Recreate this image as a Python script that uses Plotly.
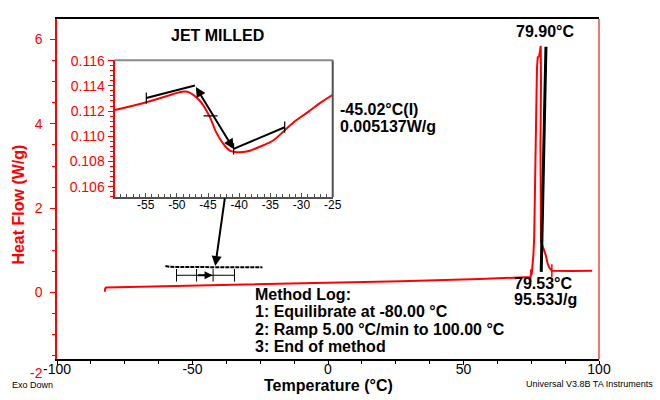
import plotly.graph_objects as go

# ---------------- data ----------------
# main DSC trace (Temperature °C, Heat Flow W/g)
main_T = [-82.4, -82.2, -81.8, -65.5, -40.0, 0.0, 26.8, 56.0, 74.6, 75.2, 75.8, 76.1, 76.5,
          76.8, 77.1, 77.4, 77.9, 78.5, 78.6, 78.4, 78.4, 78.6, 79.5, 80.3, 81.0, 81.6, 82.6,
          90.0, 97.5]
main_HF = [0.02, 0.10, 0.12, 0.14, 0.18, 0.23, 0.27, 0.32, 0.37, 0.45, 0.90, 1.34, 2.88,
           4.42, 5.30, 5.58, 5.60, 5.85, 5.00, 3.50, 2.00, 1.20, 1.05, 0.90, 0.70, 0.60, 0.52,
           0.51, 0.52]
# integration limits of the melting peak
limit_T = [74.8, 82.6]
limit_HF = [0.40, 0.52]
# onset tangent line
onset_T = [78.68, 80.42]
onset_HF = [0.49, 5.83]

# miniature of the zoomed region drawn on the main plot
mini_T = [-60.0, -58.5, -55.0, -45.0, -35.0, -24.2]
mini_HF = [0.63, 0.61, 0.605, 0.60, 0.60, 0.60]
mini_tan_T = [-55.9, -48.5, -42.4, -34.5]
mini_tan_HF = [0.41, 0.41, 0.41, 0.41]
callout_from = (-38.0, 2.27)
callout_to = (-41.6, 0.63)

# inset (glass transition zoom)
inset_T = [-59.95, -54.9, -51.7, -48.5, -46.4, -44.8, -43.7, -42.6, -41.5, -40.4, -38.8,
           -36.7, -34.5, -32.9, -31.3, -29.1, -27.0, -24.4]
inset_HF = [0.11208, 0.11270, 0.11317, 0.11355, 0.11286, 0.11162, 0.11033, 0.10944, 0.10887,
            0.10874, 0.10879, 0.10917, 0.10969, 0.11039, 0.11110, 0.11188, 0.11265, 0.11348]
tan1_T = [-54.9, -47.1]
tan1_HF = [0.11303, 0.11403]
tan2_T = [-47.1, -40.9]
tan2_HF = [0.11403, 0.10900]
tan3_T = [-40.9, -32.7]
tan3_HF = [0.10900, 0.11072]
tg_T = [-44.6]
tg_HF = [0.11162]

main_xticks = [-100, -50, 0, 50, 100]
main_yticks = [0, 2, 4, 6]
inset_xticks = [-55, -50, -45, -40, -35, -30, -25]
inset_yticks = [0.106, 0.108, 0.110, 0.112, 0.114, 0.116]

method_log = ["Method Log:", "1: Equilibrate at -80.00 °C",
              "2: Ramp 5.00 °C/min to 100.00 °C", "3: End of method"]

RED = "#ff0000"
FONT = "Arial, Liberation Sans, sans-serif"

fig = go.Figure()

# main trace
fig.add_trace(go.Scatter(x=main_T, y=main_HF, mode="lines",
                         line=dict(color=RED, width=2), showlegend=False))
fig.add_trace(go.Scatter(x=limit_T, y=limit_HF, mode="markers",
                         marker=dict(symbol="line-ns", size=9, line=dict(color=RED, width=1.5)),
                         showlegend=False))
fig.add_trace(go.Scatter(x=onset_T, y=onset_HF, mode="lines",
                         line=dict(color="black", width=3), showlegend=False))
fig.add_trace(go.Scatter(x=mini_T, y=mini_HF, mode="lines",
                         line=dict(color="black", width=2, dash="4px,1px"), showlegend=False))
fig.add_trace(go.Scatter(x=[mini_tan_T[0], mini_tan_T[-1]], y=[mini_tan_HF[0], mini_tan_HF[-1]],
                         mode="lines", line=dict(color="black", width=1), showlegend=False))
fig.add_trace(go.Scatter(x=mini_tan_T, y=mini_tan_HF, mode="markers",
                         marker=dict(symbol="line-ns", size=9, line=dict(color="black", width=1)),
                         showlegend=False))

# inset traces
fig.add_trace(go.Scatter(x=inset_T, y=inset_HF, mode="lines", xaxis="x2", yaxis="y2",
                         line=dict(color=RED, width=2, shape="spline"), showlegend=False))
for tx, ty in [(tan1_T, tan1_HF), (tan3_T, tan3_HF)]:
    fig.add_trace(go.Scatter(x=tx, y=ty, mode="lines", xaxis="x2", yaxis="y2",
                             line=dict(color="black", width=2), showlegend=False))
fig.add_trace(go.Scatter(x=[tan1_T[0], tan3_T[1], tan3_T[0]], y=[tan1_HF[0], tan3_HF[1], tan3_HF[0]],
                         mode="markers", xaxis="x2", yaxis="y2",
                         marker=dict(symbol="line-ns", size=8, line=dict(color="black", width=1.2)),
                         showlegend=False))
fig.add_trace(go.Scatter(x=tg_T, y=tg_HF, mode="markers", xaxis="x2", yaxis="y2",
                         marker=dict(symbol="line-ew", size=10, line=dict(color="black", width=1.2)),
                         showlegend=False))

annotations = []
# tangent line with arrowheads in inset
annotations.append(dict(x=tan2_T[1], y=tan2_HF[1], ax=tan2_T[0], ay=tan2_HF[0],
                        xref="x2", yref="y2", axref="x2", ayref="y2", showarrow=True,
                        arrowhead=2, startarrowhead=2, arrowside="end+start", arrowsize=1,
                        arrowwidth=2, arrowcolor="black", text=""))
# callout arrow
annotations.append(dict(x=callout_to[0], y=callout_to[1], ax=callout_from[0], ay=callout_from[1],
                        xref="x", yref="y", axref="x", ayref="y", showarrow=True,
                        arrowhead=2, arrowsize=1, arrowwidth=2, arrowcolor="black", text=""))
# mini tangent arrow
annotations.append(dict(x=-42.6, y=0.41, ax=-48.5, ay=0.41,
                        xref="x", yref="y", axref="x", ayref="y", showarrow=True,
                        arrowhead=2, arrowsize=0.8, arrowwidth=2, arrowcolor="black", text=""))

def txt(text, x, y, size=16, color="black", bold=True, xanchor="center", angle=0):
    annotations.append(dict(text=text, x=x, y=y, xref="paper", yref="paper", showarrow=False,
                            xanchor=xanchor, yanchor="middle", textangle=angle,
                            font=dict(family=FONT, size=size, color=color,
                                      weight="bold" if bold else "normal")))

txt("-2", -0.0387, -0.042, size=14, color=RED, bold=False)
txt("Heat Flow (W/g)", -0.0714, 0.455, size=16, color=RED, angle=-90)
txt("Temperature (°C)", 0.5009, -0.0776, size=16)
txt("Exo Down", -0.0867, -0.0775, size=9, bold=False, xanchor="left")
txt("Universal V3.8B TA Instruments", 1.1033, -0.0745, size=9, bold=False, xanchor="right")
txt("JET MILLED", 0.2961, 0.9526, size=16)
txt("-45.02°C(I)", 0.5185, 0.7328, size=16, xanchor="left")
txt("0.005137W/g", 0.5185, 0.6839, size=16, xanchor="left")
for i, line in enumerate(method_log):
    txt(line, 0.3622, 0.1911 - i * 0.0517, size=16, xanchor="left")
txt("79.90°C", 0.9004, 0.9626, size=16)
txt("79.53°C", 0.8395, 0.2213, size=16, xanchor="left")
txt("95.53J/g", 0.8395, 0.1739, size=16, xanchor="left")

shapes = [
    # right border of main plot
    dict(type="line", xref="paper", yref="paper", x0=1, x1=1, y0=0, y1=1,
         line=dict(color="#f07878", width=2)),
    # inset top and right border
    dict(type="line", xref="x2 domain", yref="y2 domain", x0=0, x1=1, y0=1, y1=1,
         line=dict(color="#8a8a8a", width=2)),
    dict(type="line", xref="x2 domain", yref="y2 domain", x0=1, x1=1, y0=0, y1=1,
         line=dict(color="#505050", width=2)),
]

fig.update_layout(
    width=660, height=400,
    margin=dict(l=57, r=61, t=11, b=41),
    paper_bgcolor="white", plot_bgcolor="white",
    font=dict(family=FONT),
    annotations=annotations, shapes=shapes,
    xaxis=dict(range=[-100, 100], tickvals=main_xticks, ticktext=[str(v) for v in main_xticks],
               showgrid=False, zeroline=False,
               showline=True, linecolor="black", linewidth=1.5, mirror=True,
               ticks="outside", ticklen=4, tickcolor="black",
               minor=dict(dtick=12.5, ticks="outside", ticklen=3, tickcolor="black"),
               tickfont=dict(size=14, color="black"), ticklabelstandoff=-8),
    yaxis=dict(range=[-1.575, 6.486], tickvals=main_yticks, showgrid=False, zeroline=False,
               showline=True, linecolor=RED, linewidth=1.5,
               ticks="outside", ticklen=5, tickcolor=RED,
               minor=dict(dtick=0.5, ticks="outside", ticklen=3, tickcolor=RED),
               tickfont=dict(size=14, color=RED), ticklabelstandoff=5),
    xaxis2=dict(domain=[0.1061, 0.5087], anchor="y2", range=[-60, -25], tickvals=inset_xticks,
                ticktext=[str(v) for v in inset_xticks],
                showgrid=False, zeroline=False, showline=True, linecolor="#505050", linewidth=2,
                ticks="inside", ticklen=4, tickcolor="#505050",
                minor=dict(dtick=1, ticks="inside", ticklen=3, tickcolor="#505050"),
                tickfont=dict(size=12, color="black"), ticklabelstandoff=-5),
    yaxis2=dict(domain=[0.4761, 0.8784], anchor="x2", range=[0.10518, 0.11602],
                tickvals=inset_yticks, tickformat=".3f",
                showgrid=False, zeroline=False, showline=True, linecolor=RED, linewidth=2,
                ticks="outside", ticklen=5, tickcolor=RED,
                minor=dict(dtick=0.0004, ticks="outside", ticklen=3, tickcolor=RED),
                tickfont=dict(size=14, color=RED)),
)

fig.write_html("out.html")
